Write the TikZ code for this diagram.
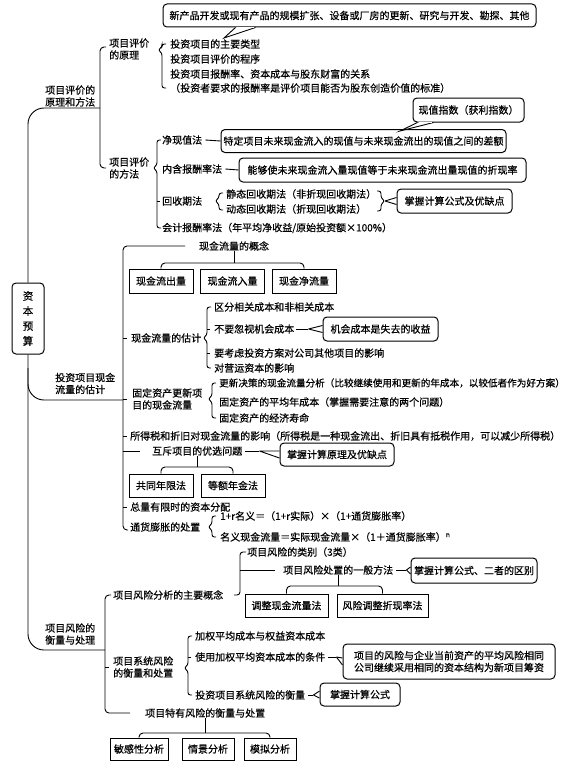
\documentclass[tikz,border=0pt]{standalone}
\usepackage{fontspec}
\setmainfont{Noto Sans CJK SC}[FakeBold=0.5]
\usetikzlibrary{calc}

% small curly bracket: x, top, tip, bottom
\newcommand\lbrk[4]{%
  \draw[link,rounded corners=2.5pt] ({#1+4},#2) -- (#1,#2) -- (#1,{#3-3}) -- ({#1-4},#3) -- (#1,{#3+3}) -- (#1,#4) -- ({#1+4},#4);}
% wedge from a coordinate into a callout box
\newcommand\wedgeto[2]{%
  \draw[link] (#1) -- ([yshift=3.5pt]#2.west) (#1) -- ([yshift=-3.5pt]#2.west);}

\begin{document}
\begin{tikzpicture}[x=1pt,y=-1pt,
  font=\fontsize{10pt}{12pt}\selectfont,
  link/.style={line width=0.9pt},
  txt/.style={inner sep=0pt,anchor=west,align=left},
  box/.style={draw,line width=1pt,inner sep=0pt,minimum height=23pt},
  rbox/.style={box,rounded corners=4pt}]
\path[use as bounding box] (0,0) rectangle (580,768);

% root
\node[rbox,minimum width=32pt,minimum height=71pt,align=center,font=\fontsize{10.5pt}{15pt}\selectfont] (root) at (28,318.5) {资\\本\\预\\算};

% ---- 项目评价的原理和方法
\draw[link,rounded corners=16pt] (root.north) |- (100,108);
\node[txt] (pj) at (45,96) {项目评价的\\原理和方法};
\draw[link,rounded corners=4pt] (106,47) -| (100,168) -- (106,168);
\node[txt] (yl) at (109,49) {项目评价\\的原理};
\node[txt] (ff) at (109,168) {项目评价\\的方法};

\node[txt] (yl1) at (170,44) {投资项目的主要类型};
\node[txt] (yl2) at (170,59) {投资项目评价的程序};
\node[txt] (yl3) at (170,74) {投资项目报酬率、资本成本与股东财富的关系};
\node[txt] (yl4) at (170,88) {（投资者要求的报酬率是评价项目能否为股东创造价值的标准）};
\lbrk{162}{44}{50}{88}

\node[rbox,minimum width=373pt] (xcp) at (349.5,15.5) {新产品开发或现有产品的规模扩张、设备或厂房的更新、研究与开发、勘探、其他};
\draw[link,fill=white] ([xshift=73pt]xcp.south west) -- (224,38) -- ([xshift=93pt]xcp.south west);
\draw[white,line width=1.6pt] ([xshift=74.5pt]xcp.south west) -- ([xshift=91.5pt]xcp.south west);

\node[txt] (jx) at (162,140) {净现值法};
\node[rbox,minimum width=285pt] (jxd) at (363.5,141) {特定项目未来现金流入的现值与未来现金流出的现值之间的差额};
\draw[link] ([xshift=3pt]jx.east) -- (jxd.west);
\node[rbox,minimum width=111pt,minimum height=24pt] (xz) at (468.5,110) {现值指数（获利指数）};
\draw[link,fill=white] ([xshift=5pt]xz.south west) -- (400,131) -- ([xshift=21pt]xz.south west);
\draw[white,line width=1.6pt] ([xshift=6.5pt]xz.south west) -- ([xshift=19.5pt]xz.south west);

\node[txt] (nh) at (162,169) {内含报酬率法};
\node[rbox,minimum width=287pt,minimum height=24pt] (nhd) at (382.5,170) {能够使未来现金流入量现值等于未来现金流出量现值的折现率};
\draw[link] ([xshift=3pt]nh.east) -- (nhd.west);

\node[txt] (hs) at (162,201) {回收期法};
\lbrk{219}{193}{201}{210}
\node[txt] (hs1) at (226,194) {静态回收期法（非折现回收期法）};
\node[txt] (hs2) at (226,209) {动态回收期法（折现回收期法）};
\draw[link,rounded corners=2.5pt] (377,191) -- (381,191) -- (381,198) -- (385,201) -- (381,204) -- (381,211) -- (377,211);
\coordinate (hstip) at (385,201);
\node[rbox,minimum width=115pt,minimum height=24pt] (hsd) at (454.5,201) {掌握计算公式及优缺点};
\wedgeto{hstip}{hsd}

\node[txt] (kj) at (162,228) {会计报酬率法（年平均净收益/原始投资额×100\%）};
\lbrk{157}{140}{168}{228}
\draw[link] (157,201) -- (160,201);

% ---- 投资项目现金流量的估计
\draw[link,rounded corners=16pt] (root.south |- 0,368) |- (123,400);
\node[txt] (tz) at (55,383.5) {投资项目现金\\流量的估计};
\draw[link,rounded corners=4pt] (185,246) -| (123,530) -- (128,530);

\node[inner sep=0pt] (gn) at (234,246) {现金流量的概念};
\foreach \x/\t/\n in {161/现金流出量/lc,232.5/现金流入量/lr,304/现金净流量/jl}
  \node[box,minimum width=64pt,minimum height=24pt] (\n) at (\x,281) {\t};
\draw[link] (gn.south) -- (gn.south |- 0,263);
\draw[link,rounded corners=4pt] (lc.north) |- (jl.north |- 0,263) -- (jl.north);

\node[txt] (gj) at (131,338) {现金流量的估计};
\draw[link] (123,338) -- (127,338);
\lbrk{207}{307}{338}{368}
\node[txt] (gj1) at (214,307) {区分相关成本和非相关成本};
\node[txt] (gj2) at (214,329) {不要忽视机会成本};
\node[txt] (gj3) at (214,353) {要考虑投资方案对公司其他项目的影响};
\node[txt] (gj4) at (214,368) {对营运资本的影响};
\draw[link] (207,329) -- (210,329) (207,353) -- (210,353);
\node[rbox,minimum width=115pt,minimum height=24pt] (jh) at (380.5,329) {机会成本是失去的收益};
\draw[link] ([xshift=2pt]gj2.east) -- ++(12,0) coordinate (w1);
\wedgeto{w1}{jh}

\node[txt] (gd) at (132,399) {固定资产更新项\\目的现金流量};
\draw[link] (123,399) -- (127,399);
\lbrk{212}{383}{399}{418}
\node[txt,font=\fontsize{9.6pt}{12pt}\selectfont] (gd1) at (219,383) {更新决策的现金流量分析（比较继续使用和更新的年成本，以较低者作为好方案）};
\node[txt] (gd2) at (219,402) {固定资产的平均年成本（掌握需要注意的两个问题）};
\node[txt] (gd3) at (219,418) {固定资产的经济寿命};

\node[txt] (sd) at (130,436) {所得税和折旧对现金流量的影响（所得税是一种现金流出、折旧具有抵税作用，可以减少所得税）};
\draw[link] (123,436) -- (127,436);
\node[txt] (hc) at (152,451) {互斥项目的优选问题};
\draw[link] (123,451) -- ([xshift=-12pt]hc.west);
\draw[link] ([xshift=3pt]hc.east) -- ++(14,0) coordinate (w2);
\node[rbox,minimum width=114pt,minimum height=23pt] (hcd) at (337,454.5) {掌握计算原理及优缺点};
\wedgeto{w2}{hcd}
\foreach \x/\t/\n in {161/共同年限法/gt,233/等额年金法/de}
  \node[box,minimum width=64pt,minimum height=23pt] (\n) at (\x,485.5) {\t};
\draw[link] (hc.south) -- (hc.south |- 0,467);
\draw[link,rounded corners=4pt] (gt.north) |- (de.north |- 0,467) -- (de.north);

\node[txt] (zl) at (130,507) {总量有限时的资本分配};
\draw[link] (123,507) -- (127,507);
\node[txt] (tp) at (130,527) {通货膨胀的处置};
\lbrk{212}{516}{527}{537}
\node[txt] (tp1) at (220,516) {1+r名义＝（1+r实际）×（1+通货膨胀率）};
\node[txt] (tp2) at (220,537) {名义现金流量＝实际现金流量×（1＋通货膨胀率）\textsuperscript{n}};

% ---- 项目风险的衡量与处理
\draw[link,rounded corners=16pt] (root.south) |- (105,650);
\node[txt] (fx) at (45,634) {项目风险的\\衡量与处理};
\draw[link,rounded corners=4pt] (111,595) -| (105,713) -- (130,713);
\node[txt] (fg) at (113,595) {项目风险分析的主要概念};
\draw[link,rounded corners=3pt] (246,552) -| (240,595) -- (234,595);
\node[txt] (lb) at (247,552) {项目风险的类别（3类）};
\node[txt] (fc) at (283,570) {项目风险处置的一般方法};
\draw[link] (240,570) -- ([xshift=-8pt]fc.west);
\draw[link] ([xshift=3pt]fc.east) -- ++(10,0) coordinate (w3);
\node[rbox,minimum width=126pt,minimum height=25pt] (fcd) at (474,570.5) {掌握计算公式、二者的区别};
\wedgeto{w3}{fcd}
\node[box,minimum width=83pt,minimum height=23pt] (tx) at (286.5,605.5) {调整现金流量法};
\node[box,minimum width=91pt,minimum height=23pt] (zx) at (382.5,605.5) {风险调整折现率法};
\draw[link] (fc.south) -- (fc.south |- 0,586);
\draw[link,rounded corners=4pt] (tx.north) |- (zx.north |- 0,586) -- (zx.north);

\node[txt] (xt) at (113,667) {项目系统风险\\的衡量和处置};
\draw[link] (105,667) -- (109,667);
\lbrk{188}{636}{668}{695}
\node[txt] (xt1) at (195,636) {加权平均成本与权益资本成本};
\node[txt] (xt2) at (195,657) {使用加权平均资本成本的条件};
\node[txt] (xt3) at (195,695) {投资项目系统风险的衡量};
\draw[link] (188,657) -- (191,657);
\node[rbox,minimum width=212pt,minimum height=35pt,align=left] (tj) at (449,661.5) {项目的风险与企业当前资产的平均风险相同\\公司继续采用相同的资本结构为新项目筹资};
\draw[link] ([xshift=3pt]xt2.east) -- ++(8,0) coordinate (w4);
\wedgeto{w4}{tj}
\node[rbox,minimum width=80pt,minimum height=23pt] (hl) at (360,694.5) {掌握计算公式};
\draw[link] ([xshift=3pt]xt3.east) -- ++(5,0) coordinate (w5);
\wedgeto{w5}{hl}

\node[txt] (ty) at (145,713) {项目特有风险的衡量与处置};
\foreach \x/\w/\t/\n in {139/58/敏感性分析/mg,208/52/情景分析/qj,270/52/模拟分析/mn}
  \node[box,minimum width=\w pt,minimum height=22pt] (\n) at (\x,749) {\t};
\draw[link] (ty.south) -- (ty.south |- 0,733);
\draw[link,rounded corners=4pt] (mg.north) |- (mn.north |- 0,733) -- (mn.north);
\end{tikzpicture}
\end{document}
